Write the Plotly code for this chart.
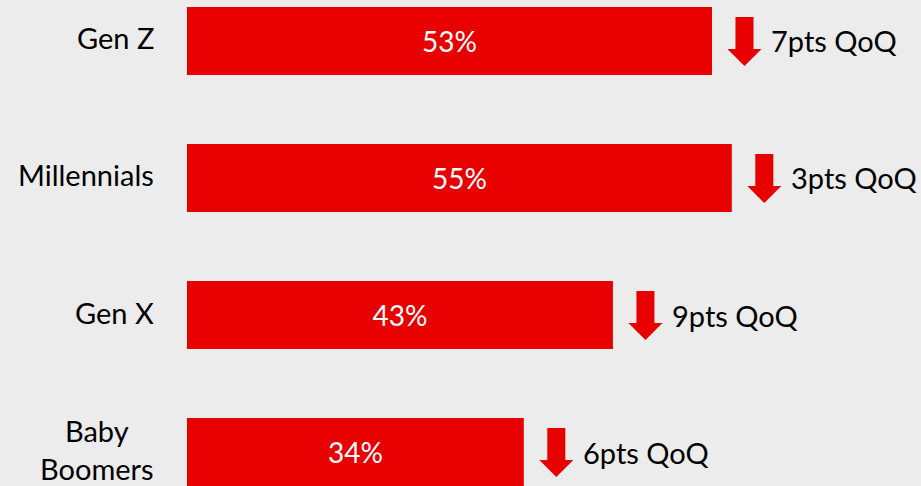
import plotly.graph_objects as go

# Share of each generation, with the quarter-on-quarter drop in points
generations = ["Gen Z", "Millennials", "Gen X", "Baby<br>Boomers"]
share_pct = [53, 55, 43, 34]
drop_pts = [7, 3, 9, 6]

BAR_RED = "#E80000"
BG = "#ECECEC"
FONT = "Lato, 'Open Sans', sans-serif"
FS = 29
FS_VALUE = 28

positions = list(range(len(generations)))

fig = go.Figure(
    go.Bar(
        x=share_pct,
        y=positions,
        orientation="h",
        width=0.496,
        marker=dict(color=BAR_RED, line=dict(width=0)),
        text=[f"{v}%" for v in share_pct],
        textposition="inside",
        insidetextanchor="middle",
        constraintext="none",
        textfont=dict(color="white", size=FS_VALUE, family=FONT),
        hoverinfo="skip",
    )
)

# Down-arrow outline, in pixels relative to the bar end / row centre
arrow_path = (
    "M 23.5,24 L 41.5,24 L 41.5,-8 L 49.5,-8 "
    "L 32.5,-25 L 15.5,-8 L 23.5,-8 Z"
)

annotations = []
shapes = []
for i, (name, val, drop) in enumerate(zip(generations, share_pct, drop_pts)):
    # generation label left of the bar
    annotations.append(
        dict(
            x=0, xref="paper", y=i, yref="y",
            text=name, showarrow=False,
            xanchor="right", yanchor="middle", align="center",
            xshift=-31, yshift=3,
            font=dict(size=FS, family=FONT, color="#000000"),
        )
    )
    # change label right of the arrow
    annotations.append(
        dict(
            x=val, xref="x", y=i, yref="y",
            text=f"{drop}pts QoQ", showarrow=False,
            xanchor="left", yanchor="middle",
            xshift=57,
            font=dict(size=FS, family=FONT, color="#000000"),
        )
    )
    shapes.append(
        dict(
            type="path",
            xref="x", yref="y",
            xsizemode="pixel", ysizemode="pixel",
            xanchor=val, yanchor=i,
            path=arrow_path,
            fillcolor=BAR_RED,
            line=dict(width=0),
        )
    )

fig.update_layout(
    width=921,
    height=486,
    margin=dict(l=187, r=0, t=0, b=0),
    paper_bgcolor=BG,
    plot_bgcolor=BG,
    showlegend=False,
    xaxis=dict(range=[0, 74.1], visible=False, fixedrange=True),
    yaxis=dict(range=[3.248, -0.299], visible=False, fixedrange=True),
    annotations=annotations,
    shapes=shapes,
)

fig.write_html("out.html")
